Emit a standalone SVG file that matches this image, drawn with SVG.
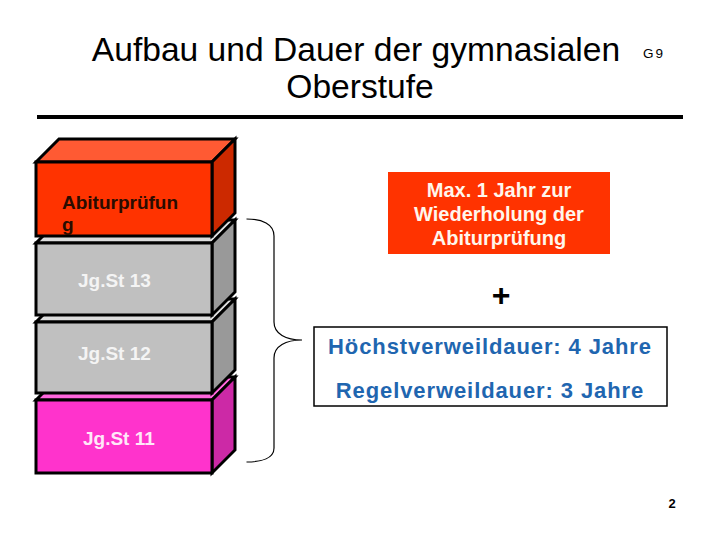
<svg xmlns="http://www.w3.org/2000/svg" width="720" height="540" viewBox="0 0 720 540">
<style>
text{font-family:"Liberation Sans",Arial,sans-serif}
.title{font-size:33.6px;fill:#000}
.box path{stroke:#000;stroke-width:3;stroke-linejoin:miter}
.lbl{font-size:19px;font-weight:bold}
.info{font-size:22px;font-weight:bold;fill:#1f66b0;letter-spacing:0.9px}
.red{font-size:20px;font-weight:bold;fill:#fff6ec}
</style>
<rect width="720" height="540" fill="#fff"/>
<g id="title">
<text class="title" x="356" y="61" text-anchor="middle">Aufbau und Dauer der gymnasialen</text>
<text class="title" x="360" y="98" text-anchor="middle">Oberstufe</text>
<text x="643" y="58" font-size="13.5" letter-spacing="2" fill="#000">G9</text>
<rect x="37" y="115" width="646" height="4" fill="#000"/>
</g>
<g id="box-jgst11" class="box">
<path d="M36 400 L59 377 L235 377 L212 400 Z" fill="#ff66dd"/>
<path d="M212 400 L235 377 L235 450 L212 473 Z" fill="#cc29a6"/>
<path d="M36 400 H212 V473 H36 Z" fill="#ff33cc"/>
<text class="lbl" x="83" y="445" fill="#ffe8f8">Jg.St 11</text>
</g>
<g id="box-jgst12" class="box">
<path d="M36 322 L59 299 L235 299 L212 322 Z" fill="#dcdcdc"/>
<path d="M212 322 L235 299 L235 370 L212 393 Z" fill="#999999"/>
<path d="M36 322 H212 V393 H36 Z" fill="#c0c0c0"/>
<text class="lbl" x="78" y="360" fill="#f4f4f4">Jg.St 12</text>
</g>
<g id="box-jgst13" class="box">
<path d="M36 243 L59 220 L235 220 L212 243 Z" fill="#dcdcdc"/>
<path d="M212 243 L235 220 L235 292 L212 315 Z" fill="#999999"/>
<path d="M36 243 H212 V315 H36 Z" fill="#c0c0c0"/>
<text class="lbl" x="78" y="287" fill="#f4f4f4">Jg.St 13</text>
</g>
<g id="box-abitur" class="box">
<path d="M36 162 L59 139 L235 139 L212 162 Z" fill="#ff5a33"/>
<path d="M212 162 L235 139 L235 213 L212 236 Z" fill="#cc2900"/>
<path d="M36 162 H212 V236 H36 Z" fill="#ff3300"/>
<text class="lbl" x="62" y="209" font-size="19.5" fill="#2a0c00">Abiturprüfun</text>
<text class="lbl" x="62" y="231" font-size="19.5" fill="#2a0c00">g</text>
</g>
<g id="connectors">
<path d="M246.5 219 C262 219 274 224 274 236 L274 322 C274 334 286 340 302 340 C286 340 274 346 274 358 L274 448 C274 458 262 462 246.5 462" fill="none" stroke="#000" stroke-width="1.2"/>
</g>
<g id="node-max">
<rect x="388" y="172" width="222" height="82" fill="#ff3300"/>
<text class="red" x="499" y="197" text-anchor="middle">Max. 1 Jahr zur</text>
<text class="red" x="499" y="221" text-anchor="middle">Wiederholung der</text>
<text class="red" x="499" y="245" text-anchor="middle">Abiturprüfung</text>
</g>
<g id="plus">
<text x="501" y="306" font-size="32" font-weight="bold" text-anchor="middle" fill="#000">+</text>
</g>
<g id="node-dauer">
<rect x="314" y="327" width="353" height="79" fill="#fff" stroke="#000" stroke-width="1.5"/>
<text class="info" x="490" y="354" text-anchor="middle">Höchstverweildauer: 4 Jahre</text>
<text class="info" x="490" y="398" text-anchor="middle">Regelverweildauer: 3 Jahre</text>
</g>
<text x="672" y="508" font-size="13" font-weight="bold" text-anchor="middle" fill="#000">2</text>
</svg>
